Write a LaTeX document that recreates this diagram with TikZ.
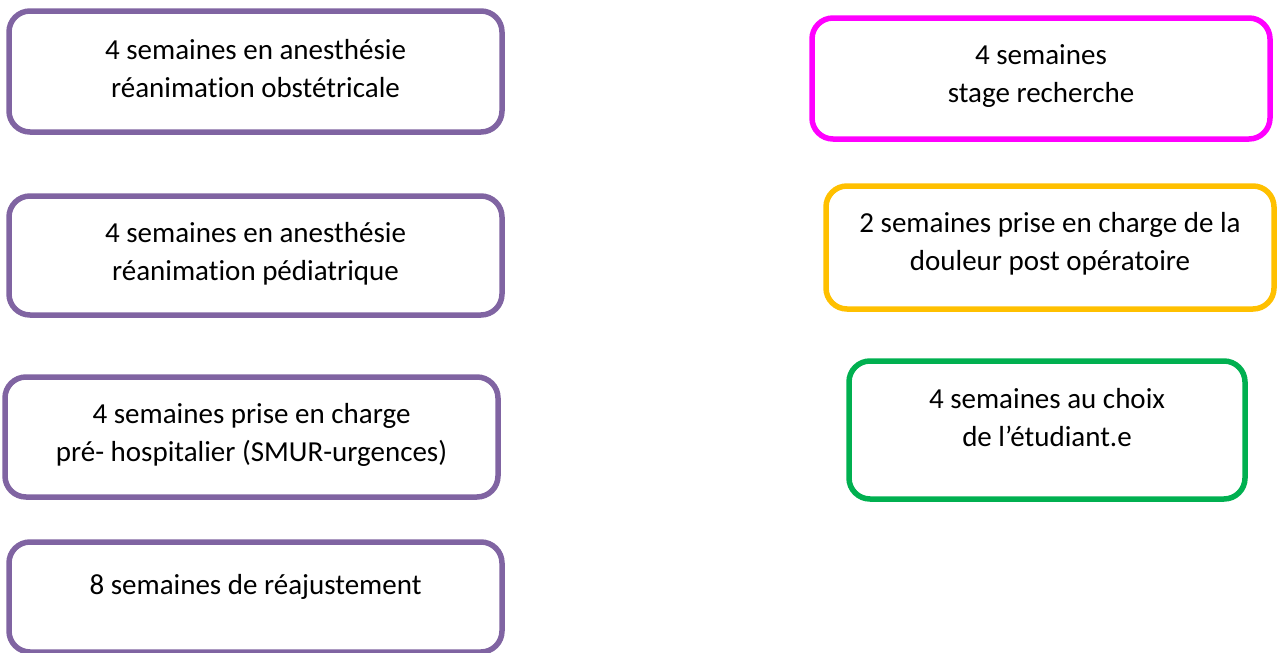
\documentclass[tikz,border=0pt]{standalone}
\usepackage{fontspec}
\setmainfont{Carlito}[Ligatures=NoCommon]
\definecolor{cpurple}{HTML}{8064A2}
\definecolor{cmagenta}{HTML}{FF00FF}
\definecolor{corange}{HTML}{FFC000}
\definecolor{cgreen}{HTML}{00B050}
\begin{document}
\begin{tikzpicture}[x=1pt,y=-1pt,
  stagebox/.style={draw=#1, line width=5.5pt, rounded corners=21pt, inner sep=0pt, outer sep=0pt, anchor=north west},
  stagetext/.style={anchor=base, inner sep=0pt, align=center, font=\fontsize{29}{37.5}\selectfont}]
\useasboundingbox (0,0) rectangle (1282,653);
% left column
\node[stagebox=cpurple, minimum width=493pt, minimum height=121pt] (b1) at (9,11) {};
\node[stagebox=cpurple, minimum width=493pt, minimum height=119pt] (b2) at (9,196) {};
\node[stagebox=cpurple, minimum width=493pt, minimum height=120pt] (b3) at (5,377) {};
\node[stagebox=cpurple, minimum width=493pt, minimum height=110pt] (b4) at (9,542) {};
% right column
\node[stagebox=cmagenta, minimum width=458pt, minimum height=121pt] (b5) at (812,18) {};
\node[stagebox=corange, minimum width=448pt, minimum height=123pt] (b6) at (826,186) {};
\node[stagebox=cgreen, minimum width=396pt, minimum height=138pt] (b7) at (849,361) {};
% texts (base = baseline of the last line)
\node[stagetext] (t1) at (b1.north |- 0,97) {4 semaines en anesthésie\\réanimation obstétricale};
\node[stagetext] (t2) at (b2.north |- 0,280) {4 semaines en anesthésie\\réanimation pédiatrique};
\node[stagetext] (t3) at (b3.north |- 0,461) {4 semaines prise en charge\\pré- hospitalier (SMUR-urgences)};
\node[stagetext] (t4) at (b4.north |- 0,594) {8 semaines de réajustement};
\node[stagetext] (t5) at (b5.north |- 0,102) {4 semaines\\stage recherche};
\node[stagetext] (t6) at (b6.north |- 0,270) {2 semaines prise en charge de la\\douleur post opératoire};
\node[stagetext] (t7) at (b7.north |- 0,446) {4 semaines au choix\\de l’étudiant.e};
\end{tikzpicture}
\end{document}
